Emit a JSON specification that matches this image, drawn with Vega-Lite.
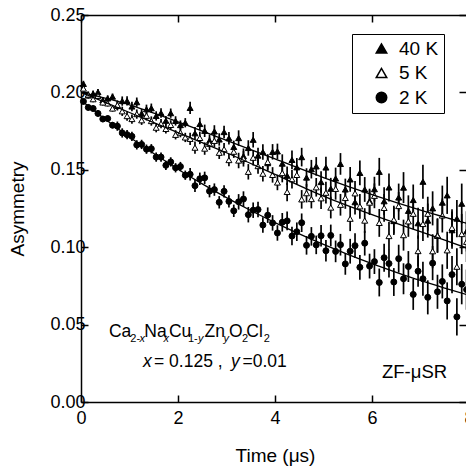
{
"$schema":"https://vega.github.io/schema/vega-lite/v6.json",
"width":385,"height":387,
"autosize":{"type":"none"},
"padding":{"left":81,"top":15,"right":0,"bottom":66},
"background":"white",
"config":{"view":{"stroke":null},"font":"Liberation Sans",
 "axis":{"grid":false,"labelFont":"Liberation Sans","labelFontSize":18,"labelColor":"black","titleFont":"Liberation Sans","titleFontSize":19,"titleFontWeight":"normal","titleColor":"black","domainColor":"black","domainWidth":1.5,"tickColor":"black","tickWidth":1.5,"tickSize":-7}},
"resolve":{"axis":{"x":"independent","y":"independent"}},
"datasets":{
"obs":[
{"s":"40 K","t":0.05,"a":0.2055,"e":0.002},{"s":"40 K","t":0.15,"a":0.1980,"e":0.002},{"s":"40 K","t":0.25,"a":0.1992,"e":0.002},{"s":"40 K","t":0.35,"a":0.2002,"e":0.002},{"s":"40 K","t":0.45,"a":0.1949,"e":0.002},{"s":"40 K","t":0.55,"a":0.1961,"e":0.002},{"s":"40 K","t":0.65,"a":0.1973,"e":0.002},{"s":"40 K","t":0.75,"a":0.1913,"e":0.003},{"s":"40 K","t":0.85,"a":0.1944,"e":0.003},{"s":"40 K","t":0.95,"a":0.1945,"e":0.003},
{"s":"40 K","t":1.05,"a":0.1909,"e":0.003},{"s":"40 K","t":1.15,"a":0.1937,"e":0.003},{"s":"40 K","t":1.25,"a":0.1863,"e":0.003},{"s":"40 K","t":1.35,"a":0.1891,"e":0.003},{"s":"40 K","t":1.45,"a":0.1898,"e":0.003},{"s":"40 K","t":1.55,"a":0.1848,"e":0.003},{"s":"40 K","t":1.65,"a":0.1867,"e":0.003},{"s":"40 K","t":1.75,"a":0.1817,"e":0.003},{"s":"40 K","t":1.85,"a":0.1866,"e":0.003},{"s":"40 K","t":1.95,"a":0.1816,"e":0.003},
{"s":"40 K","t":2.05,"a":0.1789,"e":0.003},{"s":"40 K","t":2.15,"a":0.1804,"e":0.003},{"s":"40 K","t":2.25,"a":0.1900,"e":0.004},{"s":"40 K","t":2.35,"a":0.1736,"e":0.004},{"s":"40 K","t":2.45,"a":0.1796,"e":0.004},{"s":"40 K","t":2.55,"a":0.1752,"e":0.004},{"s":"40 K","t":2.65,"a":0.1688,"e":0.004},{"s":"40 K","t":2.75,"a":0.1748,"e":0.004},{"s":"40 K","t":2.85,"a":0.1696,"e":0.004},{"s":"40 K","t":2.95,"a":0.1744,"e":0.004},
{"s":"40 K","t":3.05,"a":0.1704,"e":0.004},{"s":"40 K","t":3.15,"a":0.1648,"e":0.004},{"s":"40 K","t":3.25,"a":0.1705,"e":0.005},{"s":"40 K","t":3.35,"a":0.1588,"e":0.005},{"s":"40 K","t":3.45,"a":0.1641,"e":0.005},{"s":"40 K","t":3.55,"a":0.1694,"e":0.005},{"s":"40 K","t":3.65,"a":0.1592,"e":0.005},{"s":"40 K","t":3.75,"a":0.1615,"e":0.005},{"s":"40 K","t":3.85,"a":0.1543,"e":0.005},{"s":"40 K","t":3.95,"a":0.1616,"e":0.005},
{"s":"40 K","t":4.05,"a":0.1619,"e":0.005},{"s":"40 K","t":4.15,"a":0.1540,"e":0.006},{"s":"40 K","t":4.25,"a":0.1462,"e":0.006},{"s":"40 K","t":4.35,"a":0.1564,"e":0.006},{"s":"40 K","t":4.45,"a":0.1516,"e":0.006},{"s":"40 K","t":4.55,"a":0.1582,"e":0.006},{"s":"40 K","t":4.65,"a":0.1450,"e":0.006},{"s":"40 K","t":4.75,"a":0.1504,"e":0.006},{"s":"40 K","t":4.85,"a":0.1522,"e":0.006},{"s":"40 K","t":4.95,"a":0.1421,"e":0.007},
{"s":"40 K","t":5.05,"a":0.1515,"e":0.007},{"s":"40 K","t":5.15,"a":0.1378,"e":0.007},{"s":"40 K","t":5.25,"a":0.1444,"e":0.007},{"s":"40 K","t":5.35,"a":0.1538,"e":0.007},{"s":"40 K","t":5.45,"a":0.1373,"e":0.007},{"s":"40 K","t":5.55,"a":0.1438,"e":0.008},{"s":"40 K","t":5.65,"a":0.1291,"e":0.008},{"s":"40 K","t":5.75,"a":0.1480,"e":0.008},{"s":"40 K","t":5.85,"a":0.1373,"e":0.008},{"s":"40 K","t":5.95,"a":0.1298,"e":0.008},
{"s":"40 K","t":6.05,"a":0.1375,"e":0.008},{"s":"40 K","t":6.15,"a":0.1487,"e":0.009},{"s":"40 K","t":6.25,"a":0.1297,"e":0.009},{"s":"40 K","t":6.35,"a":0.1386,"e":0.009},{"s":"40 K","t":6.45,"a":0.1169,"e":0.009},{"s":"40 K","t":6.55,"a":0.1321,"e":0.009},{"s":"40 K","t":6.65,"a":0.1385,"e":0.010},{"s":"40 K","t":6.75,"a":0.1235,"e":0.010},{"s":"40 K","t":6.85,"a":0.1305,"e":0.010},{"s":"40 K","t":6.95,"a":0.1155,"e":0.010},
{"s":"40 K","t":7.05,"a":0.1423,"e":0.011},{"s":"40 K","t":7.15,"a":0.1172,"e":0.011},{"s":"40 K","t":7.25,"a":0.1251,"e":0.011},{"s":"40 K","t":7.35,"a":0.1077,"e":0.011},{"s":"40 K","t":7.45,"a":0.1288,"e":0.011},{"s":"40 K","t":7.55,"a":0.1335,"e":0.012},{"s":"40 K","t":7.65,"a":0.1110,"e":0.012},{"s":"40 K","t":7.75,"a":0.1185,"e":0.012},{"s":"40 K","t":7.85,"a":0.1281,"e":0.013},{"s":"40 K","t":7.95,"a":0.1103,"e":0.013},
{"s":"5 K","t":0.05,"a":0.2025,"e":0.002},{"s":"5 K","t":0.15,"a":0.1986,"e":0.002},{"s":"5 K","t":0.25,"a":0.1956,"e":0.002},{"s":"5 K","t":0.35,"a":0.1978,"e":0.002},{"s":"5 K","t":0.45,"a":0.1935,"e":0.002},{"s":"5 K","t":0.55,"a":0.1929,"e":0.002},{"s":"5 K","t":0.65,"a":0.1896,"e":0.002},{"s":"5 K","t":0.75,"a":0.1918,"e":0.003},{"s":"5 K","t":0.85,"a":0.1878,"e":0.003},{"s":"5 K","t":0.95,"a":0.1847,"e":0.003},
{"s":"5 K","t":1.05,"a":0.1828,"e":0.003},{"s":"5 K","t":1.15,"a":0.1860,"e":0.003},{"s":"5 K","t":1.25,"a":0.1820,"e":0.003},{"s":"5 K","t":1.35,"a":0.1849,"e":0.003},{"s":"5 K","t":1.45,"a":0.1815,"e":0.003},{"s":"5 K","t":1.55,"a":0.1772,"e":0.003},{"s":"5 K","t":1.65,"a":0.1798,"e":0.003},{"s":"5 K","t":1.75,"a":0.1764,"e":0.003},{"s":"5 K","t":1.85,"a":0.1790,"e":0.003},{"s":"5 K","t":1.95,"a":0.1726,"e":0.003},
{"s":"5 K","t":2.05,"a":0.1740,"e":0.003},{"s":"5 K","t":2.15,"a":0.1709,"e":0.003},{"s":"5 K","t":2.25,"a":0.1700,"e":0.004},{"s":"5 K","t":2.35,"a":0.1643,"e":0.004},{"s":"5 K","t":2.45,"a":0.1706,"e":0.004},{"s":"5 K","t":2.55,"a":0.1637,"e":0.004},{"s":"5 K","t":2.65,"a":0.1668,"e":0.004},{"s":"5 K","t":2.75,"a":0.1687,"e":0.004},{"s":"5 K","t":2.85,"a":0.1610,"e":0.004},{"s":"5 K","t":2.95,"a":0.1633,"e":0.004},
{"s":"5 K","t":3.05,"a":0.1563,"e":0.004},{"s":"5 K","t":3.15,"a":0.1617,"e":0.004},{"s":"5 K","t":3.25,"a":0.1560,"e":0.005},{"s":"5 K","t":3.35,"a":0.1571,"e":0.005},{"s":"5 K","t":3.45,"a":0.1487,"e":0.005},{"s":"5 K","t":3.55,"a":0.1578,"e":0.005},{"s":"5 K","t":3.65,"a":0.1524,"e":0.005},{"s":"5 K","t":3.75,"a":0.1475,"e":0.005},{"s":"5 K","t":3.85,"a":0.1551,"e":0.005},{"s":"5 K","t":3.95,"a":0.1467,"e":0.005},
{"s":"5 K","t":4.05,"a":0.1418,"e":0.005},{"s":"5 K","t":4.15,"a":0.1479,"e":0.006},{"s":"5 K","t":4.25,"a":0.1357,"e":0.006},{"s":"5 K","t":4.35,"a":0.1439,"e":0.006},{"s":"5 K","t":4.45,"a":0.1467,"e":0.006},{"s":"5 K","t":4.55,"a":0.1309,"e":0.006},{"s":"5 K","t":4.65,"a":0.1349,"e":0.006},{"s":"5 K","t":4.75,"a":0.1311,"e":0.006},{"s":"5 K","t":4.85,"a":0.1387,"e":0.006},{"s":"5 K","t":4.95,"a":0.1316,"e":0.007},
{"s":"5 K","t":5.05,"a":0.1352,"e":0.007},{"s":"5 K","t":5.15,"a":0.1256,"e":0.007},{"s":"5 K","t":5.25,"a":0.1377,"e":0.007},{"s":"5 K","t":5.35,"a":0.1274,"e":0.007},{"s":"5 K","t":5.45,"a":0.1318,"e":0.007},{"s":"5 K","t":5.55,"a":0.1184,"e":0.008},{"s":"5 K","t":5.65,"a":0.1348,"e":0.008},{"s":"5 K","t":5.75,"a":0.1264,"e":0.008},{"s":"5 K","t":5.85,"a":0.1172,"e":0.008},{"s":"5 K","t":5.95,"a":0.1288,"e":0.008},
{"s":"5 K","t":6.05,"a":0.1332,"e":0.008},{"s":"5 K","t":6.15,"a":0.1157,"e":0.009},{"s":"5 K","t":6.25,"a":0.1254,"e":0.009},{"s":"5 K","t":6.35,"a":0.1072,"e":0.009},{"s":"5 K","t":6.45,"a":0.1178,"e":0.009},{"s":"5 K","t":6.55,"a":0.1266,"e":0.009},{"s":"5 K","t":6.65,"a":0.1078,"e":0.010},{"s":"5 K","t":6.75,"a":0.1167,"e":0.010},{"s":"5 K","t":6.85,"a":0.1216,"e":0.010},{"s":"5 K","t":6.95,"a":0.0975,"e":0.010},
{"s":"5 K","t":7.05,"a":0.1150,"e":0.011},{"s":"5 K","t":7.15,"a":0.1216,"e":0.011},{"s":"5 K","t":7.25,"a":0.0974,"e":0.011},{"s":"5 K","t":7.35,"a":0.1073,"e":0.011},{"s":"5 K","t":7.45,"a":0.1205,"e":0.011},{"s":"5 K","t":7.55,"a":0.0980,"e":0.012},{"s":"5 K","t":7.65,"a":0.1125,"e":0.012},{"s":"5 K","t":7.75,"a":0.0874,"e":0.012},{"s":"5 K","t":7.85,"a":0.1085,"e":0.013},{"s":"5 K","t":7.95,"a":0.1035,"e":0.013},
{"s":"2 K","t":0.05,"a":0.1942,"e":0.002},{"s":"2 K","t":0.15,"a":0.1903,"e":0.002},{"s":"2 K","t":0.25,"a":0.1896,"e":0.002},{"s":"2 K","t":0.35,"a":0.1864,"e":0.002},{"s":"2 K","t":0.45,"a":0.1828,"e":0.002},{"s":"2 K","t":0.55,"a":0.1831,"e":0.002},{"s":"2 K","t":0.65,"a":0.1788,"e":0.002},{"s":"2 K","t":0.75,"a":0.1782,"e":0.003},{"s":"2 K","t":0.85,"a":0.1738,"e":0.003},{"s":"2 K","t":0.95,"a":0.1727,"e":0.003},
{"s":"2 K","t":1.05,"a":0.1716,"e":0.003},{"s":"2 K","t":1.15,"a":0.1661,"e":0.003},{"s":"2 K","t":1.25,"a":0.1664,"e":0.003},{"s":"2 K","t":1.35,"a":0.1633,"e":0.003},{"s":"2 K","t":1.45,"a":0.1636,"e":0.003},{"s":"2 K","t":1.55,"a":0.1582,"e":0.003},{"s":"2 K","t":1.65,"a":0.1582,"e":0.003},{"s":"2 K","t":1.75,"a":0.1529,"e":0.003},{"s":"2 K","t":1.85,"a":0.1551,"e":0.003},{"s":"2 K","t":1.95,"a":0.1513,"e":0.003},
{"s":"2 K","t":2.05,"a":0.1521,"e":0.003},{"s":"2 K","t":2.15,"a":0.1465,"e":0.003},{"s":"2 K","t":2.25,"a":0.1471,"e":0.004},{"s":"2 K","t":2.35,"a":0.1397,"e":0.004},{"s":"2 K","t":2.45,"a":0.1442,"e":0.004},{"s":"2 K","t":2.55,"a":0.1448,"e":0.004},{"s":"2 K","t":2.65,"a":0.1362,"e":0.004},{"s":"2 K","t":2.75,"a":0.1372,"e":0.004},{"s":"2 K","t":2.85,"a":0.1290,"e":0.004},{"s":"2 K","t":2.95,"a":0.1361,"e":0.004},
{"s":"2 K","t":3.05,"a":0.1296,"e":0.004},{"s":"2 K","t":3.15,"a":0.1235,"e":0.004},{"s":"2 K","t":3.25,"a":0.1293,"e":0.005},{"s":"2 K","t":3.35,"a":0.1311,"e":0.005},{"s":"2 K","t":3.45,"a":0.1210,"e":0.005},{"s":"2 K","t":3.55,"a":0.1239,"e":0.005},{"s":"2 K","t":3.65,"a":0.1243,"e":0.005},{"s":"2 K","t":3.75,"a":0.1143,"e":0.005},{"s":"2 K","t":3.85,"a":0.1207,"e":0.005},{"s":"2 K","t":3.95,"a":0.1157,"e":0.005},
{"s":"2 K","t":4.05,"a":0.1092,"e":0.005},{"s":"2 K","t":4.15,"a":0.1161,"e":0.006},{"s":"2 K","t":4.25,"a":0.1170,"e":0.006},{"s":"2 K","t":4.35,"a":0.1072,"e":0.006},{"s":"2 K","t":4.45,"a":0.1100,"e":0.006},{"s":"2 K","t":4.55,"a":0.1158,"e":0.006},{"s":"2 K","t":4.65,"a":0.1012,"e":0.006},{"s":"2 K","t":4.75,"a":0.1070,"e":0.006},{"s":"2 K","t":4.85,"a":0.1015,"e":0.006},{"s":"2 K","t":4.95,"a":0.1074,"e":0.007},
{"s":"2 K","t":5.05,"a":0.0977,"e":0.007},{"s":"2 K","t":5.15,"a":0.1076,"e":0.007},{"s":"2 K","t":5.25,"a":0.0973,"e":0.007},{"s":"2 K","t":5.35,"a":0.1016,"e":0.007},{"s":"2 K","t":5.45,"a":0.0892,"e":0.007},{"s":"2 K","t":5.55,"a":0.0974,"e":0.008},{"s":"2 K","t":5.65,"a":0.1010,"e":0.008},{"s":"2 K","t":5.75,"a":0.0870,"e":0.008},{"s":"2 K","t":5.85,"a":0.1026,"e":0.008},{"s":"2 K","t":5.95,"a":0.0878,"e":0.008},
{"s":"2 K","t":6.05,"a":0.0907,"e":0.008},{"s":"2 K","t":6.15,"a":0.0772,"e":0.009},{"s":"2 K","t":6.25,"a":0.0932,"e":0.009},{"s":"2 K","t":6.35,"a":0.0894,"e":0.009},{"s":"2 K","t":6.45,"a":0.0775,"e":0.009},{"s":"2 K","t":6.55,"a":0.0926,"e":0.009},{"s":"2 K","t":6.65,"a":0.0796,"e":0.010},{"s":"2 K","t":6.75,"a":0.0875,"e":0.010},{"s":"2 K","t":6.85,"a":0.0695,"e":0.010},{"s":"2 K","t":6.95,"a":0.0845,"e":0.010},
{"s":"2 K","t":7.05,"a":0.0796,"e":0.011},{"s":"2 K","t":7.15,"a":0.0676,"e":0.011},{"s":"2 K","t":7.25,"a":0.0897,"e":0.011},{"s":"2 K","t":7.35,"a":0.0712,"e":0.011},{"s":"2 K","t":7.45,"a":0.0779,"e":0.011},{"s":"2 K","t":7.55,"a":0.0653,"e":0.012},{"s":"2 K","t":7.65,"a":0.0823,"e":0.012},{"s":"2 K","t":7.75,"a":0.0550,"e":0.012},{"s":"2 K","t":7.85,"a":0.0761,"e":0.013},{"s":"2 K","t":7.95,"a":0.0726,"e":0.013}
],
"fit":[
{"s":"40 K","t":0,"a":0.200},{"s":"40 K","t":1,"a":0.192},{"s":"40 K","t":2,"a":0.181},{"s":"40 K","t":3,"a":0.169},{"s":"40 K","t":4,"a":0.157},{"s":"40 K","t":5,"a":0.145},{"s":"40 K","t":6,"a":0.134},{"s":"40 K","t":7,"a":0.124},{"s":"40 K","t":8,"a":0.115},
{"s":"5 K","t":0,"a":0.200},{"s":"5 K","t":1,"a":0.187},{"s":"5 K","t":2,"a":0.174},{"s":"5 K","t":3,"a":0.161},{"s":"5 K","t":4,"a":0.147},{"s":"5 K","t":5,"a":0.133},{"s":"5 K","t":6,"a":0.121},{"s":"5 K","t":7,"a":0.110},{"s":"5 K","t":8,"a":0.099},
{"s":"2 K","t":0,"a":0.1950},{"s":"2 K","t":0.5,"a":0.1827},{"s":"2 K","t":1,"a":0.1712},{"s":"2 K","t":1.5,"a":0.1605},{"s":"2 K","t":2,"a":0.1504},{"s":"2 K","t":2.5,"a":0.1409},{"s":"2 K","t":3,"a":0.1320},{"s":"2 K","t":3.5,"a":0.1237},{"s":"2 K","t":4,"a":0.1159},{"s":"2 K","t":4.5,"a":0.1086},{"s":"2 K","t":5,"a":0.1018},{"s":"2 K","t":5.5,"a":0.0954},{"s":"2 K","t":6,"a":0.0894},{"s":"2 K","t":6.5,"a":0.0838},{"s":"2 K","t":7,"a":0.0785},{"s":"2 K","t":7.5,"a":0.0736},{"s":"2 K","t":8,"a":0.0689}
]},
"layer":[
{"data":{"name":"obs"},
 "mark":{"type":"errorbar","color":"black","thickness":1.7},
 "encoding":{"x":{"field":"t","type":"quantitative","scale":{"domain":[0,8],"range":[0,388],"nice":false,"zero":false},"axis":null},
  "y":{"field":"a","type":"quantitative","scale":{"domain":[0,0.25],"nice":false},"axis":null},
  "yError":{"field":"e"}}},
{"data":{"name":"obs"},
 "mark":{"type":"point","filled":true,"stroke":"black","strokeWidth":1,"opacity":1,"size":36},
 "encoding":{
  "x":{"field":"t","type":"quantitative","axis":{"orient":"bottom","values":[0,2,4,6,8],"format":"d","labelFlush":false,"labelPadding":14,"title":"Time (μs)","titlePadding":19}},
  "y":{"field":"a","type":"quantitative","axis":{"orient":"left","values":[0,0.05,0.1,0.15,0.2,0.25],"format":".2f","labelPadding":3,"title":"Asymmetry","titlePadding":22}},
  "shape":{"field":"s","type":"nominal","scale":{"domain":["40 K","5 K","2 K"],"range":["triangle-up","triangle-up","circle"]},
   "legend":{"title":null,"orient":"none","legendX":271,"legendY":19,"strokeColor":"black","fillColor":"white","padding":5,"symbolSize":110,"labelFontSize":19,"labelFont":"Liberation Sans","labelColor":"black","rowPadding":4.5,"symbolOffset":15,"labelOffset":8,
    "encode":{"symbols":{"update":{"stroke":{"value":"black"},"strokeWidth":{"value":1}}}}}},
  "fill":{"field":"s","type":"nominal","scale":{"domain":["40 K","5 K","2 K"],"range":["black","white","black"]},
   "legend":{"title":null,"orient":"none","legendX":271,"legendY":19,"strokeColor":"black","fillColor":"white","padding":5,"symbolSize":110,"labelFontSize":19,"labelFont":"Liberation Sans","labelColor":"black","rowPadding":4.5,"symbolOffset":15,"labelOffset":8,
    "encode":{"symbols":{"update":{"stroke":{"value":"black"},"strokeWidth":{"value":1}}}}}}}},
{"data":{"name":"fit"},
 "mark":{"type":"line","color":"black","strokeWidth":1.3,"interpolate":"monotone"},
 "encoding":{"x":{"field":"t","type":"quantitative","axis":{"orient":"top","values":[0,2,4,6,8],"labels":false,"title":null}},
  "y":{"field":"a","type":"quantitative","axis":{"orient":"right","values":[0,0.05,0.1,0.15,0.2,0.25],"labels":false,"title":null,"domain":false}},
  "detail":{"field":"s"}}},
{"data":{"values":[{}]},"mark":{"type":"text","text":"Ca","align":"left","baseline":"alphabetic","fontSize":17.5,"font":"Liberation Sans"},"encoding":{"x":{"datum":0.577,"axis":null},"y":{"datum":0.0422,"axis":null}}},
{"data":{"values":[{}]},"mark":{"type":"text","text":"2-","align":"left","baseline":"alphabetic","fontSize":11,"font":"Liberation Sans"},"encoding":{"x":{"datum":1.016,"axis":null},"y":{"datum":0.039,"axis":null}}},
{"data":{"values":[{}]},"mark":{"type":"text","text":"x","align":"left","baseline":"alphabetic","fontSize":11,"fontStyle":"italic","font":"Liberation Sans"},"encoding":{"x":{"datum":1.206,"axis":null},"y":{"datum":0.039,"axis":null}}},
{"data":{"values":[{}]},"mark":{"type":"text","text":"Na","align":"left","baseline":"alphabetic","fontSize":17.5,"font":"Liberation Sans"},"encoding":{"x":{"datum":1.305,"axis":null},"y":{"datum":0.0422,"axis":null}}},
{"data":{"values":[{}]},"mark":{"type":"text","text":"x","align":"left","baseline":"alphabetic","fontSize":11,"fontStyle":"italic","font":"Liberation Sans"},"encoding":{"x":{"datum":1.701,"axis":null},"y":{"datum":0.039,"axis":null}}},
{"data":{"values":[{}]},"mark":{"type":"text","text":"Cu","align":"left","baseline":"alphabetic","fontSize":17.5,"font":"Liberation Sans"},"encoding":{"x":{"datum":1.814,"axis":null},"y":{"datum":0.0422,"axis":null}}},
{"data":{"values":[{}]},"mark":{"type":"text","text":"1-","align":"left","baseline":"alphabetic","fontSize":11,"font":"Liberation Sans"},"encoding":{"x":{"datum":2.206,"axis":null},"y":{"datum":0.039,"axis":null}}},
{"data":{"values":[{}]},"mark":{"type":"text","text":"y","align":"left","baseline":"alphabetic","fontSize":11,"fontStyle":"italic","font":"Liberation Sans"},"encoding":{"x":{"datum":2.412,"axis":null},"y":{"datum":0.039,"axis":null}}},
{"data":{"values":[{}]},"mark":{"type":"text","text":"Zn","align":"left","baseline":"alphabetic","fontSize":17.5,"font":"Liberation Sans"},"encoding":{"x":{"datum":2.546,"axis":null},"y":{"datum":0.0422,"axis":null}}},
{"data":{"values":[{}]},"mark":{"type":"text","text":"y","align":"left","baseline":"alphabetic","fontSize":11,"fontStyle":"italic","font":"Liberation Sans"},"encoding":{"x":{"datum":2.938,"axis":null},"y":{"datum":0.039,"axis":null}}},
{"data":{"values":[{}]},"mark":{"type":"text","text":"O","align":"left","baseline":"alphabetic","fontSize":17.5,"font":"Liberation Sans"},"encoding":{"x":{"datum":3.052,"axis":null},"y":{"datum":0.0422,"axis":null}}},
{"data":{"values":[{}]},"mark":{"type":"text","text":"2","align":"left","baseline":"alphabetic","fontSize":11,"font":"Liberation Sans"},"encoding":{"x":{"datum":3.32,"axis":null},"y":{"datum":0.039,"axis":null}}},
{"data":{"values":[{}]},"mark":{"type":"text","text":"Cl","align":"left","baseline":"alphabetic","fontSize":17.5,"font":"Liberation Sans"},"encoding":{"x":{"datum":3.408,"axis":null},"y":{"datum":0.0422,"axis":null}}},
{"data":{"values":[{}]},"mark":{"type":"text","text":"2","align":"left","baseline":"alphabetic","fontSize":11,"font":"Liberation Sans"},"encoding":{"x":{"datum":3.769,"axis":null},"y":{"datum":0.039,"axis":null}}},
{"data":{"values":[{}]},"mark":{"type":"text","text":"x","align":"left","baseline":"alphabetic","fontSize":17.5,"fontStyle":"italic","font":"Liberation Sans"},"encoding":{"x":{"datum":1.278,"axis":null},"y":{"datum":0.0228,"axis":null}}},
{"data":{"values":[{}]},"mark":{"type":"text","text":"= 0.125 ,","align":"left","baseline":"alphabetic","fontSize":17.5,"font":"Liberation Sans"},"encoding":{"x":{"datum":1.505,"axis":null},"y":{"datum":0.0228,"axis":null}}},
{"data":{"values":[{}]},"mark":{"type":"text","text":"y","align":"left","baseline":"alphabetic","fontSize":17.5,"fontStyle":"italic","font":"Liberation Sans"},"encoding":{"x":{"datum":3.093,"axis":null},"y":{"datum":0.0228,"axis":null}}},
{"data":{"values":[{}]},"mark":{"type":"text","text":"=0.01","align":"left","baseline":"alphabetic","fontSize":17.5,"font":"Liberation Sans"},"encoding":{"x":{"datum":3.33,"axis":null},"y":{"datum":0.0228,"axis":null}}},
{"data":{"values":[{}]},"mark":{"type":"text","text":"ZF-μSR","align":"left","baseline":"alphabetic","fontSize":18.5,"font":"Liberation Sans"},"encoding":{"x":{"datum":6.206,"axis":null},"y":{"datum":0.0155,"axis":null}}}
]
}
